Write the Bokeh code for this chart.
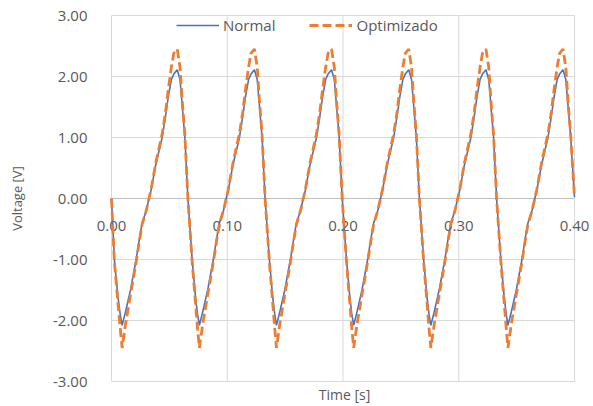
from bokeh.plotting import figure
from bokeh.models import ColumnDataSource, FixedTicker, NumeralTickFormatter, Legend
from bokeh.core.properties import value
from bokeh.embed import file_html
from bokeh.resources import INLINE

# ---- data ----
time_s = [
    0.0000, 0.0025, 0.0056, 0.0074,
    0.0092, 0.0122, 0.0164, 0.0213, 0.0242, 0.0265, 0.0300, 0.0324, 0.0341, 0.0382, 0.0438, 0.0467,
    0.0490, 0.0517, 0.0538, 0.0568, 0.0592, 0.0612, 0.0634, 0.0660, 0.0697, 0.0726, 0.0742,
    0.0759, 0.0789, 0.0831, 0.0880, 0.0909, 0.0932, 0.0967, 0.0991, 0.1008, 0.1049, 0.1105, 0.1134,
    0.1157, 0.1184, 0.1205, 0.1235, 0.1259, 0.1279, 0.1301, 0.1327, 0.1364, 0.1393, 0.1409,
    0.1425, 0.1455, 0.1497, 0.1546, 0.1575, 0.1598, 0.1633, 0.1657, 0.1674, 0.1715, 0.1771, 0.1800,
    0.1823, 0.1850, 0.1871, 0.1901, 0.1925, 0.1945, 0.1967, 0.1993, 0.2030, 0.2059, 0.2075,
    0.2092, 0.2122, 0.2164, 0.2213, 0.2242, 0.2265, 0.2300, 0.2324, 0.2341, 0.2382, 0.2438, 0.2467,
    0.2490, 0.2517, 0.2538, 0.2568, 0.2592, 0.2612, 0.2634, 0.2660, 0.2697, 0.2726, 0.2742,
    0.2759, 0.2789, 0.2831, 0.2880, 0.2909, 0.2932, 0.2967, 0.2991, 0.3008, 0.3049, 0.3105, 0.3134,
    0.3157, 0.3184, 0.3205, 0.3235, 0.3259, 0.3279, 0.3301, 0.3327, 0.3364, 0.3393, 0.3409,
    0.3425, 0.3455, 0.3497, 0.3546, 0.3575, 0.3598, 0.3633, 0.3657, 0.3674, 0.3715, 0.3771, 0.3800,
    0.3823, 0.3850, 0.3871, 0.3901, 0.3925, 0.3945, 0.3967, 0.4000,
]

normal_v = [
    0.00, -1.00, -1.62, -1.88,
    -2.08, -1.85, -1.50, -1.00, -0.65, -0.40, -0.20, 0.00, 0.13, 0.55, 1.00, 1.35,
    1.66, 1.95, 2.04, 2.11, 1.95, 1.50, 1.00, 0.00, -1.00, -1.62, -1.88,
    -2.08, -1.85, -1.50, -1.00, -0.65, -0.40, -0.20, 0.00, 0.13, 0.55, 1.00, 1.35,
    1.66, 1.95, 2.04, 2.11, 1.95, 1.50, 1.00, 0.00, -1.00, -1.62, -1.88,
    -2.08, -1.85, -1.50, -1.00, -0.65, -0.40, -0.20, 0.00, 0.13, 0.55, 1.00, 1.35,
    1.66, 1.95, 2.04, 2.11, 1.95, 1.50, 1.00, 0.00, -1.00, -1.62, -1.88,
    -2.08, -1.85, -1.50, -1.00, -0.65, -0.40, -0.20, 0.00, 0.13, 0.55, 1.00, 1.35,
    1.66, 1.95, 2.04, 2.11, 1.95, 1.50, 1.00, 0.00, -1.00, -1.62, -1.88,
    -2.08, -1.85, -1.50, -1.00, -0.65, -0.40, -0.20, 0.00, 0.13, 0.55, 1.00, 1.35,
    1.66, 1.95, 2.04, 2.11, 1.95, 1.50, 1.00, 0.00, -1.00, -1.62, -1.88,
    -2.08, -1.85, -1.50, -1.00, -0.65, -0.40, -0.20, 0.00, 0.13, 0.55, 1.00, 1.35,
    1.66, 1.95, 2.04, 2.11, 1.95, 1.50, 1.00, 0.02,
]

optimizado_v = [
    0.00, -1.04, -1.72, -2.10,
    -2.45, -2.05, -1.58, -1.04, -0.68, -0.42, -0.20, 0.00, 0.14, 0.58, 1.06, 1.42,
    1.78, 2.15, 2.38, 2.45, 2.15, 1.58, 1.04, 0.00, -1.04, -1.72, -2.10,
    -2.45, -2.05, -1.58, -1.04, -0.68, -0.42, -0.20, 0.00, 0.14, 0.58, 1.06, 1.42,
    1.78, 2.15, 2.38, 2.45, 2.15, 1.58, 1.04, 0.00, -1.04, -1.72, -2.10,
    -2.45, -2.05, -1.58, -1.04, -0.68, -0.42, -0.20, 0.00, 0.14, 0.58, 1.06, 1.42,
    1.78, 2.15, 2.38, 2.45, 2.15, 1.58, 1.04, 0.00, -1.04, -1.72, -2.10,
    -2.45, -2.05, -1.58, -1.04, -0.68, -0.42, -0.20, 0.00, 0.14, 0.58, 1.06, 1.42,
    1.78, 2.15, 2.38, 2.45, 2.15, 1.58, 1.04, 0.00, -1.04, -1.72, -2.10,
    -2.45, -2.05, -1.58, -1.04, -0.68, -0.42, -0.20, 0.00, 0.14, 0.58, 1.06, 1.42,
    1.78, 2.15, 2.38, 2.45, 2.15, 1.58, 1.04, 0.00, -1.04, -1.72, -2.10,
    -2.45, -2.05, -1.58, -1.04, -0.68, -0.42, -0.20, 0.00, 0.14, 0.58, 1.06, 1.42,
    1.78, 2.15, 2.38, 2.45, 2.15, 1.58, 1.04, 0.02,
]

x_ticks = [0.0, 0.1, 0.2, 0.3, 0.4]
x_tick_labels = ["0.00", "0.10", "0.20", "0.30", "0.40"]
y_ticks = [-3, -2, -1, 0, 1, 2, 3]

FONT = "Open Sans"
TXT = "#595959"
GRID = "#D9D9D9"

# plot-area geometry (pixels): data x 0..0.4 -> 463 px, y -3..3 -> 366 px
PX_X = 463 / (x_ticks[-1] - x_ticks[0])
PX_Y = 366 / (y_ticks[-1] - y_ticks[0])
PAD_L, PAD_R, PAD_Y = 16, 19, 1

src = ColumnDataSource(dict(t=time_s, normal=normal_v, opt=optimizado_v))

p = figure(frame_width=463 + PAD_L + PAD_R, frame_height=366 + 2 * PAD_Y,
           x_range=(x_ticks[0] - PAD_L / PX_X, x_ticks[-1] + PAD_R / PX_X),
           y_range=(y_ticks[0] - PAD_Y / PX_Y, y_ticks[-1] + PAD_Y / PX_Y),
           output_backend="svg", toolbar_location=None,
           min_border_left=95, min_border_right=0,
           min_border_top=14, min_border_bottom=0)
p.background_fill_color = "white"
p.border_fill_color = "white"
p.outline_line_color = None
p.xgrid.grid_line_color = None
p.ygrid.grid_line_color = None

# gridlines spanning the plot area only
p.segment(x0=x_ticks[0], x1=x_ticks[-1], y0=y_ticks, y1=y_ticks,
          line_color=GRID, line_width=1)
p.segment(x0=x_ticks, x1=x_ticks, y0=y_ticks[0], y1=y_ticks[-1],
          line_color=GRID, line_width=1)
# horizontal axis line at zero
p.segment(x0=[x_ticks[0]], x1=[x_ticks[-1]], y0=[0], y1=[0],
          line_color="#BFBFBF", line_width=1)

# y axis
ya = p.yaxis[0]
ya.ticker = FixedTicker(ticks=y_ticks)
ya.formatter = NumeralTickFormatter(format="0.00")
ya.axis_line_color = None
ya.major_tick_line_color = None
ya.minor_tick_line_color = None
ya.major_label_text_font = FONT
ya.major_label_text_font_size = "15px"
ya.major_label_text_color = TXT
ya.major_label_standoff = 2
ya.axis_label = "Voltage [V]"
ya.axis_label_text_font = FONT
ya.axis_label_text_font_size = "13px"
ya.axis_label_text_font_style = "normal"
ya.axis_label_text_color = TXT
ya.axis_label_standoff = 24

# x axis: title only; tick labels drawn along y = 0
xa = p.xaxis[0]
xa.ticker = FixedTicker(ticks=[])
xa.axis_line_color = None
xa.major_tick_line_color = None
xa.minor_tick_line_color = None
xa.major_label_standoff = 0
xa.axis_label = "Time [s]"
xa.axis_label_text_font = FONT
xa.axis_label_text_font_size = "14px"
xa.axis_label_text_font_style = "normal"
xa.axis_label_text_color = TXT
xa.axis_label_standoff = 2

p.text(x=x_ticks, y=[0] * len(x_ticks), text=x_tick_labels,
       text_font=value(FONT), text_font_size="15px", text_color=TXT,
       text_align="center", text_baseline="middle", y_offset=27)

r1 = p.line("t", "normal", source=src, line_color="#4472C4", line_width=1.6)
r2 = p.line("t", "opt", source=src, line_color="#ED7D31", line_width=2.8,
            line_dash="9 4")

legend = Legend(items=[("Normal", [r1]), ("Optimizado", [r2])],
                orientation="horizontal", location=(81, 347))
legend.border_line_color = None
legend.background_fill_alpha = 0
legend.glyph_width = 43
legend.glyph_height = 20
legend.label_height = 20
legend.label_standoff = 4
legend.spacing = 34
legend.padding = 0
legend.margin = 0
legend.label_text_font = FONT
legend.label_text_font_size = "15px"
legend.label_text_color = TXT
p.add_layout(legend)

open("out.html", "w").write(file_html(p, INLINE))
